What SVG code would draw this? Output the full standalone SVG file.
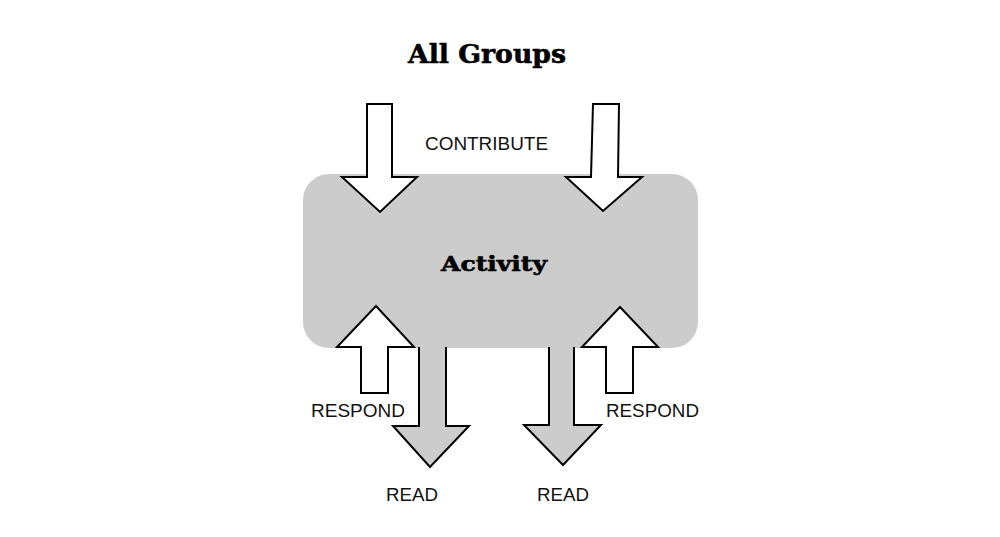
<svg xmlns="http://www.w3.org/2000/svg" width="1000" height="537" viewBox="0 0 1000 537">
<style>
.arw{fill:#ffffff;stroke:#000;stroke-width:2;stroke-linejoin:miter}
.rd{fill:#cccccc;stroke:#000;stroke-width:2;stroke-linejoin:miter}
.lbl{font-family:"Liberation Sans",Arial,sans-serif;font-size:18px;fill:#111}
.ttl{font-family:"DejaVu Serif","Liberation Serif",serif;font-weight:bold;fill:#000;stroke:#000;stroke-width:0.6}
</style>
<rect width="1000" height="537" fill="#ffffff"/>
<g id="activity">
<rect x="303" y="174" width="395" height="174" rx="26" ry="26" fill="#cccccc"/>
<text class="ttl" x="494" y="271" font-size="21" text-anchor="middle" textLength="106" lengthAdjust="spacingAndGlyphs">Activity</text>
</g>
<g id="title">
<text class="ttl" x="487" y="63" font-size="26" text-anchor="middle" textLength="158" lengthAdjust="spacingAndGlyphs">All Groups</text>
</g>
<g id="connectors">
<path class="arw" d="M367,104 L392,104 L392,177 L417,177 L380,212 L342,177 L367,177 Z"/>
<path class="arw" d="M593,104 L619,104 L618,177 L642,177 L603,211 L566,177 L591,177 Z"/>
<path class="arw" d="M376,306 L414,347 L388,347 L388,393 L361,393 L361,347 L337,347 Z"/>
<path class="arw" d="M620,307 L658,347 L633,347 L633,393 L606,393 L606,347 L582,347 Z"/>
<path class="rd" d="M419,347 L419,426 L393,426 L430,467 L469,426 L446,426 L446,347"/>
<path class="rd" d="M549,347 L549,425 L524,425 L563,465 L601,425 L574,425 L574,347"/>
</g>
<g id="labels">
<text class="lbl" x="425" y="150" textLength="123" lengthAdjust="spacingAndGlyphs">CONTRIBUTE</text>
<text class="lbl" x="311" y="417" textLength="94" lengthAdjust="spacingAndGlyphs">RESPOND</text>
<text class="lbl" x="606" y="417" textLength="93" lengthAdjust="spacingAndGlyphs">RESPOND</text>
<text class="lbl" x="386" y="501" textLength="52" lengthAdjust="spacingAndGlyphs">READ</text>
<text class="lbl" x="537" y="501" textLength="52" lengthAdjust="spacingAndGlyphs">READ</text>
</g>
</svg>
